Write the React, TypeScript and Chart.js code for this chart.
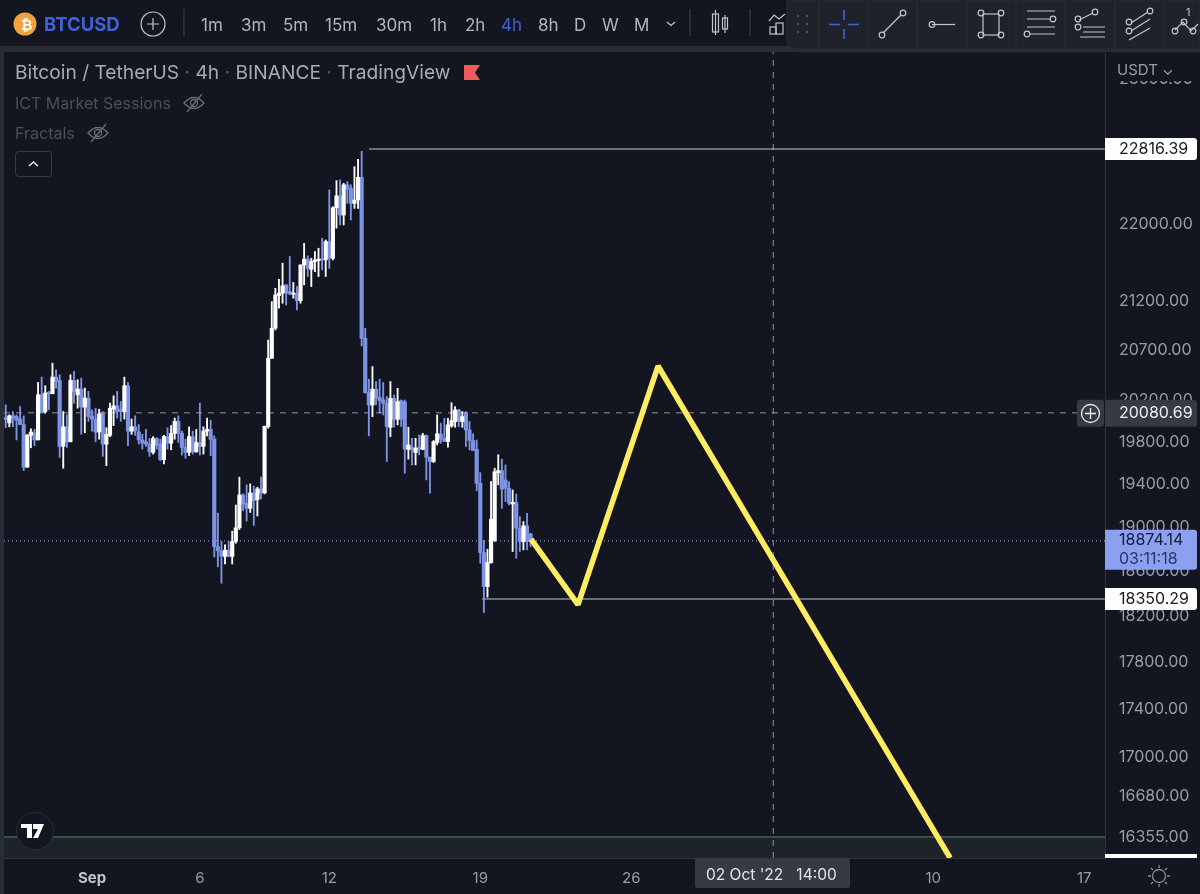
import React, { useEffect, useRef } from "react";
import { Chart, registerables } from "chart.js";

Chart.register(...registerables);

const FONT = "Inter, 'Noto Sans', sans-serif";

const opens = [
  20036, 19983, 20052, 20045, 20020, 19967, 19559, 19863, 19888, 19819,
  20257, 20093, 20280, 20267, 20431, 20398, 19757, 19945, 19801, 20398,
  20257, 20313, 20136, 20224, 20052, 20020, 19895, 20077, 19779, 19863,
  20116, 20149, 20116, 20093, 20346, 19904, 19945, 19895, 19819, 19801,
  19779, 19700, 19832, 19779, 19631, 19851, 19788, 19882, 19998, 19882,
  19747, 19700, 19851, 19706, 19794, 19757, 19904, 19920, 19826, 18821,
  18783, 18733, 18789, 18733, 18868, 18994, 19298, 19223, 19173, 19317,
  19254, 19355, 19317, 19948, 20618, 20920, 21254, 21278, 21364, 21295,
  21268, 21278, 21202, 21571, 21631, 21525, 21606, 21617, 21631, 21624,
  21816, 21641, 22177, 22304, 22099, 22424, 22387, 22224, 22260, 22506,
  20818, 20279, 20157, 20312, 20233, 20207, 20174, 19941, 20222, 20018,
  20199, 20189, 19730, 19749, 19698, 19749, 19730, 19861, 19654, 19613,
  19794, 19877, 19835, 19803, 19954, 19996, 20109, 19996, 20083, 19915,
  19813, 19730, 19408, 18767, 18461, 18677, 18877, 19508, 19527, 19439,
  19361, 19214, 19226, 18990, 18868, 19011, 18938,
];
const highs = [
  20159, 20061, 20093, 20061, 20142, 20052, 19873, 19926, 19920, 20378,
  20431, 20346, 20290, 20569, 20503, 20454, 20093, 20061, 20454, 20487,
  20405, 20421, 20323, 20290, 20110, 20126, 20116, 20093, 19936, 20175,
  20247, 20290, 20192, 20431, 20378, 20020, 20052, 19967, 19873, 19920,
  19832, 19851, 19841, 19826, 19863, 19936, 19958, 20030, 20052, 19904,
  19826, 19945, 19904, 19920, 20175, 19945, 20030, 20008, 19857, 19129,
  18868, 18837, 18868, 18962, 19204, 19465, 19308, 19392, 19402, 19380,
  19370, 19465, 19951, 20801, 21192, 21329, 21422, 21589, 21364, 21659,
  21388, 21346, 21571, 21798, 21666, 21641, 21711, 21746, 21851, 21833,
  22369, 22188, 22470, 22477, 22441, 22459, 22424, 22622, 22702, 22790,
  20920, 20410, 20535, 20387, 20410, 20377, 20240, 20387, 20255, 20321,
  20206, 20206, 19941, 19835, 19835, 19867, 19883, 19867, 19654, 19813,
  20060, 19980, 20028, 20028, 20179, 20141, 20115, 20093, 20093, 19996,
  19877, 19819, 19508, 18877, 18798, 19424, 19549, 19677, 19635, 19581,
  19424, 19345, 19307, 19097, 19051, 19128, 18944,
];
const lows = [
  19936, 19945, 19945, 19819, 19967, 19527, 19559, 19744, 19763, 19819,
  20083, 20077, 20110, 20267, 20323, 19653, 19549, 19747, 19801, 20175,
  20126, 19873, 19888, 19998, 19904, 19801, 19826, 19662, 19574, 19851,
  19958, 20030, 19998, 20020, 19763, 19873, 19863, 19779, 19731, 19757,
  19662, 19684, 19731, 19622, 19590, 19731, 19725, 19826, 19794, 19675,
  19644, 19669, 19684, 19700, 19675, 19684, 19857, 19669, 18727, 18639,
  18491, 18664, 18727, 18664, 18852, 18978, 19151, 19056, 19135, 19016,
  19103, 19260, 19308, 19932, 20618, 20903, 21123, 21175, 21157, 21261,
  21226, 21106, 21175, 21364, 21450, 21346, 21501, 21450, 21519, 21450,
  21536, 21624, 21958, 21993, 21993, 22224, 22046, 22170, 22170, 20741,
  20272, 19858, 20044, 20157, 20076, 20060, 19613, 19851, 19941, 19964,
  19948, 19502, 19635, 19581, 19581, 19676, 19724, 19439, 19314, 19603,
  19771, 19787, 19803, 19749, 19941, 19941, 19948, 19941, 19756, 19724,
  19717, 19339, 18671, 18230, 18366, 18671, 18868, 19393, 19174, 19236,
  19205, 18777, 18716, 18777, 18792, 18792, 18822,
];
const closes = [
  20014, 20052, 20030, 20008, 19967, 19559, 19863, 19895, 19819, 20257,
  20083, 20274, 20267, 20431, 20388, 19757, 19945, 19801, 20398, 20290,
  20313, 20136, 20224, 20045, 20020, 19895, 20071, 19779, 19873, 20126,
  20149, 20093, 20093, 20346, 19904, 19945, 19904, 19819, 19788, 19779,
  19706, 19832, 19769, 19631, 19851, 19788, 19882, 19998, 19882, 19747,
  19700, 19851, 19706, 19794, 19757, 19904, 19920, 19826, 18821, 18783,
  18733, 18789, 18733, 18868, 18994, 19298, 19213, 19173, 19317, 19245,
  19355, 19317, 19951, 20618, 20920, 21261, 21278, 21353, 21278, 21271,
  21278, 21202, 21571, 21631, 21536, 21606, 21624, 21631, 21624, 21816,
  21641, 22177, 22304, 22099, 22424, 22376, 22224, 22260, 22506, 20818,
  20279, 20157, 20312, 20223, 20200, 20174, 19948, 20222, 20018, 20189,
  20018, 19730, 19771, 19724, 19740, 19730, 19861, 19654, 19613, 19803,
  19877, 19825, 19806, 19964, 20006, 20109, 19996, 20044, 19915, 19813,
  19717, 19408, 18767, 18461, 18677, 19073, 19517, 19527, 19352, 19361,
  19220, 19229, 18990, 18868, 19011, 18868, 18874,
];

// Time is in days after 1 Sep 2022; one candle every 4 hours, first one on 28 Aug.
const firstBarDay = -4;
const barsPerDay = 6;
const barDays = opens.map((_, i) => firstBarDay + i / barsPerDay);

const yMin = 16188;
const yMax = 23913;
const xMin = -4.08;
const xMax = 46.96;

const priceTicks = [23600, 22000, 21200, 20700, 20200, 19800, 19400, 19000, 18600, 18200, 17800, 17400, 17000, 16680, 16355];
const dayTicks = [0, 5, 11, 18, 25, 39, 46];
const dayLabels = ["Sep", "6", "12", "19", "26", "10", "17"];

const highLevel = 22816.39;
const highLevelDay = 12.84;
const lowLevel = 18350.29;
const lowLevelDay = 18.08;
const lastPrice = 18874.14;
const countdown = "03:11:18";
const crossPrice = 20080.69;
const crossDay = 31.58;
const zoneTop = 16355;

const forecastDays = [20.35, 22.53, 26.24, 39.78];
const forecastPrices = [18890, 18300, 20541, 16188];

const timeframes: [string, number][] = [
  ["1m", 201], ["3m", 241], ["5m", 283], ["15m", 325], ["30m", 376], ["1h", 430],
  ["2h", 465], ["4h", 501], ["8h", 538], ["D", 574], ["W", 602], ["M", 634],
];

const BG = "#131621";
const BAND = "#2a2c35";
const BLUE = "#7d94e4";
const WHITE = "#ffffff";

const bodySet = (up: boolean) =>
  barDays
    .map((x, i) => ({ x, y: [opens[i], closes[i]], up: closes[i] >= opens[i] }))
    .filter((b) => b.up === up);
const wickSet = (up: boolean) =>
  barDays
    .map((x, i) => ({ x, y: [lows[i], highs[i]], up: closes[i] >= opens[i] }))
    .filter((b) => b.up === up);

const lineDs = (data: { x: number; y: number }[], color: string, width: number, dash: number[], order: number, extra: any = {}) => ({
  type: "line" as const,
  data,
  borderColor: color,
  borderWidth: width,
  borderDash: dash,
  pointRadius: 0,
  tension: 0,
  order,
  ...extra,
});

const tagsPlugin = {
  id: "tags",
  afterDraw(chart: any) {
    const { ctx } = chart;
    const y = chart.scales.y;
    const L = 1105;
    const W = 92;
    ctx.save();
    ctx.fillStyle = BG;
    ctx.fillRect(L + 1, 52, 94, 29);
    ctx.textAlign = "left";
    ctx.textBaseline = "middle";
    ctx.font = `16px ${FONT}`;
    const tag = (v: number, bg: string, fg: string) => {
      const py = y.getPixelForValue(v);
      ctx.fillStyle = bg;
      ctx.beginPath();
      ctx.roundRect(L, py - 11, W, 22, [0, 3, 3, 0]);
      ctx.fill();
      ctx.fillStyle = fg;
      ctx.fillText(v.toFixed(2), L + 14, py + 0.5);
    };
    tag(highLevel, "#ffffff", "#16181f");
    tag(lowLevel, "#ffffff", "#16181f");
    // crosshair tag
    const cy = y.getPixelForValue(crossPrice);
    ctx.fillStyle = "#363a45";
    ctx.beginPath();
    ctx.roundRect(L, cy - 13, W, 27, 3);
    ctx.fill();
    ctx.beginPath();
    ctx.roundRect(1077, cy - 13, 27, 27, 3);
    ctx.fill();
    ctx.fillStyle = "#eceded";
    ctx.fillText(crossPrice.toFixed(2), L + 14, cy + 0.5);
    // last price tag
    const ly = y.getPixelForValue(lastPrice);
    ctx.fillStyle = "#8ba0f0";
    ctx.beginPath();
    ctx.roundRect(L, ly - 11, W, 40, [0, 3, 3, 0]);
    ctx.fill();
    ctx.fillStyle = "#171c33";
    ctx.fillText(lastPrice.toFixed(2), L + 14, ly - 0.5);
    ctx.fillStyle = "#2b3463";
    ctx.fillText(countdown, L + 14, ly + 18);
    // clipped white tag at the bottom of the scale
    ctx.fillStyle = "#ffffff";
    ctx.fillRect(L, 854, W, 4);
    ctx.restore();
  },
};

function Label({ x, y, children, style }: any) {
  return (
    <div
      style={{
        position: "absolute",
        left: x,
        top: y,
        transform: "translateY(-50%)",
        whiteSpace: "pre",
        fontFamily: FONT,
        lineHeight: 1,
        ...style,
      }}
    >
      {children}
    </div>
  );
}

function Icons() {
  const s = "#c3c5cb";
  const EyeOff = ({ x, y }: { x: number; y: number }) => (
    <g transform={`translate(${x} ${y})`} fill="none" stroke="#6a6d78" strokeWidth="1.3">
      <path d="M-10 0 Q0 -11 10 0 Q0 11 -10 0Z" />
      <circle r="3.5" />
      <path d="M-7 9 L8 -9" />
    </g>
  );
  const node = (x: number, y: number, c = s) => <circle cx={x} cy={y} r="2.8" fill="none" stroke={c} strokeWidth="1.2" />;
  return (
    <svg width="1200" height="894" style={{ position: "absolute", left: 0, top: 0 }}>
      <circle cx="25" cy="24" r="11.5" fill="#f0a33c" />
      <circle cx="153" cy="24" r="12" fill="none" stroke={s} strokeWidth="1.2" />
      <path d="M147 24H159M153 18V30" stroke={s} strokeWidth="1.2" />
      <path d="M184 9V36M690 9V36M750 9V36" stroke="#3a3c46" strokeWidth="1.2" />
      <path d="M667 22l4 3.5 4-3.5" fill="none" stroke={s} strokeWidth="1.2" />
      <g fill="none" stroke={s} strokeWidth="1.2">
        <rect x="712.5" y="14" width="6" height="18" />
        <path d="M715.5 10V35" />
        <rect x="722.5" y="18" width="5" height="11" />
        <path d="M725 15V33" />
        <path d="M769 21l5-6 5 4 6-5" />
        <rect x="770" y="27" width="6" height="7" />
        <rect x="776" y="23" width="7" height="11" />
      </g>
      {/* floating drawing toolbar */}
      <path d="M787 0H1200V49H797Q787 49 787 39Z" fill="#20222b" stroke="#2a2c35" />
      <path d="M819 0V48M868 0V48M917 0V48M967 0V48M1016 0V48M1065 0V48M1115 0V48M1164 0V48" stroke="#2a2c35" />
      <g fill="#555862">
        {[16, 24, 32].map((yy) => (
          <g key={yy}>
            <circle cx="798" cy={yy} r="1.2" />
            <circle cx="807" cy={yy} r="1.2" />
          </g>
        ))}
      </g>
      <path d="M829 24.5H840M848 24.5H859M844 10V20M844 29V39" stroke="#3f62d8" strokeWidth="1.6" />
      <g fill="none" stroke={s} strokeWidth="1.2">
        <path d="M883 33L901 15" />
        <path d="M932 24.5H955" />
        <rect x="983" y="14" width="16" height="21" />
        <path d="M1027 11H1055M1027 19H1050M1027 27H1055M1030 34H1055" />
        <path d="M1079 20L1093 13M1083 27H1105M1083 32H1105M1080 37H1105" />
        <path d="M1131 23L1148 12M1131 31L1150 19M1129 40L1150 28" />
        <path d="M1175 30L1183 22L1191 31L1198 24" />
      </g>
      {node(882, 35)}{node(903, 13)}
      {node(932, 24.5)}
      {node(981, 13)}{node(1001, 13)}{node(981, 35)}{node(1001, 35)}
      {node(1053, 19)}{node(1027, 34)}
      {node(1078, 19)}{node(1095, 12)}{node(1078, 27)}
      {node(1129, 22)}{node(1150, 11)}{node(1129, 31)}
      {node(1175, 31)}{node(1184, 22)}{node(1193, 31)}
      {/* legend */}
      <path d="M464 65H480L475 72.5L480 80H464Z" fill="#ef5c5c" />
      <EyeOff x={194} y={103} />
      <EyeOff x={98} y={133} />
      <rect x="15.5" y="151.5" width="36" height="25" rx="3" fill={BG} stroke="#3a3c46" />
      <path d="M29 166l4.5-4 4.5 4" fill="none" stroke="#e4e5e8" strokeWidth="1.6" />
      {/* crosshair plus */}
      <circle cx="1090.5" cy="413.5" r="9" fill="none" stroke="#eceded" strokeWidth="1.3" />
      <path d="M1085 413.5H1096M1090.5 408V419" stroke="#eceded" strokeWidth="1.3" />
      {/* logo */}
      <circle cx="35" cy="831" r="18.5" fill={BG} stroke="#2a2c35" />
      <path d="M21 824H32V838H27V828H21ZM33 824H44L38 838H33L38 829H33Z" fill="#ffffff" />
      {/* crosshair time box */}
      <rect x="695" y="858" width="155" height="30" rx="2" fill="#363a45" />
      {/* gear */}
      <g fill="none" stroke="#8a8d98" strokeWidth="1.3">
        <circle cx="1159" cy="876" r="6.5" />
        <path d="M1159 865V868M1159 884V887M1148 876H1151M1167 876H1170M1151 868L1153 870M1165 882L1167 884M1167 868L1165 870M1153 882L1151 884" />
      </g>
    </svg>
  );
}

export default function App() {
  const ref = useRef<HTMLCanvasElement | null>(null);

  useEffect(() => {
    if (!ref.current) return;
    const dayAxisEnds = [{ x: xMin }, { x: xMax }];
    const chart = new Chart(ref.current, {
      type: "bar",
      plugins: [tagsPlugin],
      data: {
        datasets: [
          lineDs(
            forecastDays.map((x, i) => ({ x, y: forecastPrices[i] })),
            "#ffec62",
            5.5,
            [],
            0,
            { borderCapStyle: "butt", borderJoinStyle: "bevel" }
          ),
          { data: bodySet(true) as any, backgroundColor: WHITE, barThickness: 3.5, minBarLength: 1, grouped: false, order: 3 },
          { data: bodySet(false) as any, backgroundColor: BLUE, barThickness: 3.5, minBarLength: 1, grouped: false, order: 4 },
          { data: wickSet(true) as any, backgroundColor: WHITE, barThickness: 1.2, grouped: false, order: 5 },
          { data: wickSet(false) as any, backgroundColor: BLUE, barThickness: 1.2, grouped: false, order: 6 },
          lineDs([{ x: highLevelDay, y: highLevel }, { x: xMax, y: highLevel }], "#c2c4ca", 1.2, [], 7),
          lineDs([{ x: lowLevelDay, y: lowLevel }, { x: xMax, y: lowLevel }], "#c2c4ca", 1.2, [], 7),
          lineDs(dayAxisEnds.map((p) => ({ x: p.x, y: lastPrice })), "#a9b4e2", 1, [1, 3], 8),
          lineDs(dayAxisEnds.map((p) => ({ x: p.x, y: crossPrice })), "#8f929c", 1, [6, 6], 9),
          lineDs([{ x: crossDay, y: yMin }, { x: crossDay, y: yMax }], "#8f929c", 1, [6, 6], 9),
          lineDs(dayAxisEnds.map((p) => ({ x: p.x, y: zoneTop })), "#4e6a5c", 1.2, [], 10, {
            fill: "start",
            backgroundColor: "#1c2427",
          }),
        ] as any,
      },
      options: {
        animation: false,
        responsive: false,
        maintainAspectRatio: false,
        layout: { padding: { left: 4, right: 0, top: 52, bottom: 0 } },
        plugins: { legend: { display: false }, tooltip: { enabled: false } },
        scales: {
          x: {
            type: "linear",
            offset: false,
            min: xMin,
            max: xMax,
            grid: { display: false, drawTicks: false },
            border: { color: "#2f323c" },
            afterBuildTicks(s: any) {
              s.ticks = dayTicks.map((value) => ({ value }));
            },
            afterFit(s: any) {
              s.height = 36;
              s.paddingLeft = s.paddingRight = 0;
            },
            ticks: {
              autoSkip: false,
              maxRotation: 0,
              padding: 11,
              color: (c: any) => (c.index === 0 ? "#c3c5cb" : "#9a9ca5"),
              font: (c: any) => ({ family: FONT, size: 15, weight: c.index === 0 ? "bold" : "normal" }),
              callback: (_: any, i: number) => dayLabels[i],
            },
          },
          y: {
            type: "logarithmic",
            position: "right",
            min: yMin,
            max: yMax,
            grid: { display: false, drawTicks: false },
            border: { color: "#2f323c" },
            afterBuildTicks(s: any) {
              s.ticks = priceTicks.map((value) => ({ value, major: false }));
            },
            afterFit(s: any) {
              s.width = 95;
              s.paddingTop = s.paddingBottom = 0;
            },
            ticks: {
              autoSkip: false,
              padding: 14,
              color: "#9a9ca5",
              font: { family: FONT, size: 16 },
              callback: (v: any) => Number(v).toFixed(2),
            },
          },
        },
      } as any,
    });
    return () => chart.destroy();
  }, []);

  const dot = { color: "#555862" };
  return (
    <div style={{ position: "absolute", left: 0, top: 0, width: 1200, height: 894, background: BG, overflow: "hidden" }}>
      <div style={{ position: "absolute", left: 0, top: 46, width: 1200, height: 6, background: BAND }} />
      <div style={{ position: "absolute", left: 0, top: 46, width: 4, height: 848, background: BAND }} />
      <canvas ref={ref} width={1200} height={894} style={{ position: "absolute", left: 0, top: 0, display: "block" }} />
      <Icons />
      <Label x={21} y={25} style={{ color: "#fff", fontSize: 14, fontWeight: 700, fontFamily: "'DejaVu Sans', sans-serif" }}>₿</Label>
      <Label x={44} y={24} style={{ color: "#3f62d8", fontSize: 18.5, fontWeight: 700 }}>BTCUSD</Label>
      {timeframes.map(([t, x]) => (
        <Label key={t} x={x} y={25} style={{ color: t === "4h" ? "#3f62d8" : "#b3b5bd", fontSize: 17 }}>{t}</Label>
      ))}
      <Label x={15} y={73} style={{ color: "#a8abb5", fontSize: 19.2 }}>
        Bitcoin / TetherUS <span style={dot}>·</span> 4h <span style={dot}>·</span> BINANCE <span style={dot}>·</span> TradingView
      </Label>
      <Label x={15} y={103} style={{ color: "#4c4f5a", fontSize: 16 }}>ICT Market Sessions</Label>
      <Label x={15} y={133} style={{ color: "#4c4f5a", fontSize: 16 }}>Fractals</Label>
      <Label x={1117} y={69} style={{ color: "#9a9ca5", fontSize: 15 }}>USDT ⌄</Label>
      <Label x={1186} y={12} style={{ color: "#c3c5cb", fontSize: 11 }}>1</Label>
      <Label x={706} y={875} style={{ color: "#e4e5e8", fontSize: 15.5 }}>{"02 Oct '22   14:00"}</Label>
    </div>
  );
}
